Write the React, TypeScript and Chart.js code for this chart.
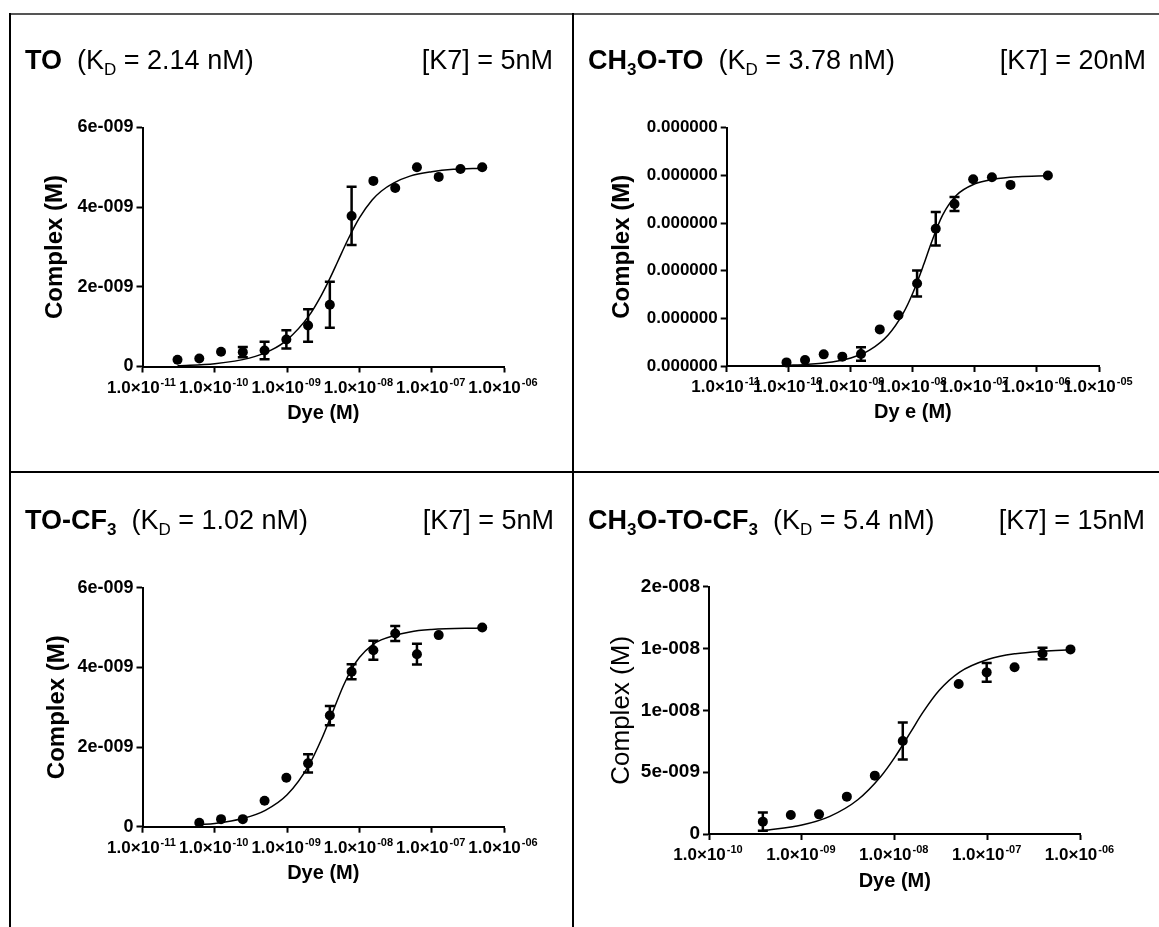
import React, { useEffect, useRef } from 'react';
import { Chart, registerables } from 'chart.js';

Chart.register(...registerables);

const FONT = '"Liberation Sans", Arial, Helvetica, sans-serif';

// ---------- Panel 1: TO ----------
const toDye = [3.05e-11, 6.1e-11, 1.22e-10, 2.44e-10, 4.88e-10, 9.77e-10, 1.95e-9, 3.9e-9, 7.8e-9, 1.56e-8, 3.13e-8, 6.25e-8, 1.25e-7, 2.5e-7, 5e-7];
const toComplex = [0.17e-9, 0.2e-9, 0.37e-9, 0.36e-9, 0.4e-9, 0.68e-9, 1.03e-9, 1.55e-9, 3.78e-9, 4.66e-9, 4.48e-9, 5.0e-9, 4.76e-9, 4.96e-9, 5.0e-9];
const toSem = [0, 0, 0, 0.13e-9, 0.22e-9, 0.23e-9, 0.41e-9, 0.58e-9, 0.73e-9, 0, 0, 0, 0, 0, 0];
const toFitDye = [3.05e-11, 1e-10, 3e-10, 6e-10, 1e-9, 2e-9, 3e-9, 4e-9, 5e-9, 7e-9, 1e-8, 1.5e-8, 2e-8, 3e-8, 5e-8, 1e-7, 2e-7, 5e-7];
const toFitComplex = [0.02e-9, 0.07e-9, 0.21e-9, 0.41e-9, 0.67e-9, 1.27e-9, 1.8e-9, 2.25e-9, 2.63e-9, 3.2e-9, 3.73e-9, 4.18e-9, 4.4e-9, 4.61e-9, 4.78e-9, 4.89e-9, 4.95e-9, 4.98e-9];
const toXTicks = [1e-11, 1e-10, 1e-9, 1e-8, 1e-7, 1e-6];
const toXExps = ['-11', '-10', '-09', '-08', '-07', '-06'];
const toYTicks = [0, 2e-9, 4e-9, 6e-9];
const toYLabels = ['0', '2e-009', '4e-009', '6e-009'];

// ---------- Panel 2: CH3O-TO ----------
const meoDye = [9.2e-11, 1.83e-10, 3.66e-10, 7.3e-10, 1.46e-9, 2.93e-9, 5.86e-9, 1.17e-8, 2.34e-8, 4.69e-8, 9.38e-8, 1.88e-7, 3.75e-7, 1.5e-6];
const meoComplex = [0.38e-9, 0.63e-9, 1.22e-9, 0.98e-9, 1.26e-9, 3.84e-9, 5.33e-9, 8.65e-9, 14.4e-9, 17.0e-9, 19.6e-9, 19.8e-9, 19.0e-9, 19.98e-9];
const meoSem = [0, 0, 0, 0, 0.7e-9, 0, 0, 1.36e-9, 1.75e-9, 0.73e-9, 0, 0, 0, 0];
const meoFitDye = [9.2e-11, 2e-10, 5e-10, 1e-9, 2e-9, 4e-9, 7e-9, 1e-8, 1.5e-8, 2e-8, 3e-8, 5e-8, 1e-7, 2e-7, 5e-7, 1.5e-6];
const meoFitComplex = [0.08e-9, 0.17e-9, 0.42e-9, 0.84e-9, 1.66e-9, 3.26e-9, 5.55e-9, 7.66e-9, 10.67e-9, 12.99e-9, 15.8e-9, 17.89e-9, 19.11e-9, 19.59e-9, 19.85e-9, 19.95e-9];
const meoXTicks = [1e-11, 1e-10, 1e-9, 1e-8, 1e-7, 1e-6, 1e-5];
const meoXExps = ['-11', '-10', '-09', '-08', '-07', '-06', '-05'];
const meoYTicks = [0, 5e-9, 1e-8, 1.5e-8, 2e-8, 2.5e-8];
const meoYLabels = ['0.000000', '0.000000', '0.000000', '0.000000', '0.000000', '0.000000'];

// ---------- Panel 3: TO-CF3 ----------
const cf3Dye = [6.1e-11, 1.22e-10, 2.44e-10, 4.88e-10, 9.77e-10, 1.95e-9, 3.9e-9, 7.8e-9, 1.56e-8, 3.13e-8, 6.25e-8, 1.25e-7, 5e-7];
const cf3Complex = [0.1e-9, 0.19e-9, 0.19e-9, 0.65e-9, 1.23e-9, 1.59e-9, 2.79e-9, 3.89e-9, 4.43e-9, 4.85e-9, 4.33e-9, 4.81e-9, 5.0e-9];
const cf3Sem = [0, 0, 0, 0, 0, 0.23e-9, 0.24e-9, 0.19e-9, 0.24e-9, 0.19e-9, 0.26e-9, 0, 0];
const cf3FitDye = [6.1e-11, 1e-10, 2.5e-10, 5e-10, 1e-9, 2e-9, 3e-9, 4e-9, 6e-9, 8e-9, 1e-8, 1.5e-8, 2e-8, 5e-8, 1e-7, 5e-7];
const cf3FitComplex = [0.05e-9, 0.08e-9, 0.21e-9, 0.41e-9, 0.8e-9, 1.54e-9, 2.2e-9, 2.75e-9, 3.54e-9, 3.99e-9, 4.25e-9, 4.56e-9, 4.69e-9, 4.89e-9, 4.95e-9, 4.99e-9];
const cf3XTicks = [1e-11, 1e-10, 1e-9, 1e-8, 1e-7, 1e-6];
const cf3XExps = ['-11', '-10', '-09', '-08', '-07', '-06'];
const cf3YTicks = [0, 2e-9, 4e-9, 6e-9];
const cf3YLabels = ['0', '2e-009', '4e-009', '6e-009'];

// ---------- Panel 4: CH3O-TO-CF3 ----------
const meoCf3Dye = [3.8e-10, 7.6e-10, 1.53e-9, 3.05e-9, 6.1e-9, 1.22e-8, 4.88e-8, 9.77e-8, 1.95e-7, 3.9e-7, 7.8e-7];
const meoCf3Complex = [1.0e-9, 1.54e-9, 1.59e-9, 3.02e-9, 4.72e-9, 7.52e-9, 12.13e-9, 13.07e-9, 13.48e-9, 14.6e-9, 14.93e-9];
const meoCf3Sem = [0.73e-9, 0, 0, 0, 0, 1.5e-9, 0, 0.75e-9, 0, 0.46e-9, 0];
const meoCf3FitDye = [3.8e-10, 1e-9, 2e-9, 4e-9, 7e-9, 1e-8, 1.5e-8, 2e-8, 3e-8, 5e-8, 1e-7, 2e-7, 4e-7, 7.8e-7];
const meoCf3FitComplex = [0.28e-9, 0.73e-9, 1.43e-9, 2.77e-9, 4.61e-9, 6.2e-9, 8.3e-9, 9.81e-9, 11.6e-9, 13.09e-9, 14.11e-9, 14.58e-9, 14.79e-9, 14.9e-9];
const meoCf3XTicks = [1e-10, 1e-9, 1e-8, 1e-7, 1e-6];
const meoCf3XExps = ['-10', '-09', '-08', '-07', '-06'];
const meoCf3YTicks = [0, 5e-9, 1e-8, 1.5e-8, 2e-8];
const meoCf3YLabels = ['0', '5e-009', '1e-008', '1e-008', '2e-008'];

type PanelDef = {
  x0: number; y0: number; w: number; h: number;
  pad: { left: number; right: number; top: number; bottom: number };
  yWidth: number; xHeight: number;
  xMin: number; xMax: number; yMax: number;
  xTicks: number[]; xExps: string[]; yTicks: number[]; yLabels: string[];
  dye: number[]; complex: number[]; sem: number[]; fitDye: number[]; fitComplex: number[];
  yTitle: string; yTitleWeight: string; yTitleSize: number; yTickSize: number; xTitle: string;
};

const panels: PanelDef[] = [
  {
    x0: 11, y0: 15, w: 561, h: 456,
    pad: { left: 32, right: 68, top: 112.5, bottom: 48 }, yWidth: 99.5, xHeight: 56.5,
    xMin: 1e-11, xMax: 1e-6, yMax: 6e-9,
    xTicks: toXTicks, xExps: toXExps, yTicks: toYTicks, yLabels: toYLabels,
    dye: toDye, complex: toComplex, sem: toSem, fitDye: toFitDye, fitComplex: toFitComplex,
    yTitle: 'Complex (M)', yTitleWeight: 'bold', yTitleSize: 24, yTickSize: 18, xTitle: 'Dye (M)',
  },
  {
    x0: 574, y0: 15, w: 585, h: 456,
    pad: { left: 36, right: 60, top: 112.7, bottom: 49 }, yWidth: 116.7, xHeight: 56,
    xMin: 1e-11, xMax: 1e-5, yMax: 2.5e-8,
    xTicks: meoXTicks, xExps: meoXExps, yTicks: meoYTicks, yLabels: meoYLabels,
    dye: meoDye, complex: meoComplex, sem: meoSem, fitDye: meoFitDye, fitComplex: meoFitComplex,
    yTitle: 'Complex (M)', yTitleWeight: 'bold', yTitleSize: 24, yTickSize: 17, xTitle: 'Dy e (M)',
  },
  {
    x0: 11, y0: 473, w: 561, h: 454,
    pad: { left: 34, right: 68, top: 114.7, bottom: 44 }, yWidth: 97.5, xHeight: 56.3,
    xMin: 1e-11, xMax: 1e-6, yMax: 6e-9,
    xTicks: cf3XTicks, xExps: cf3XExps, yTicks: cf3YTicks, yLabels: cf3YLabels,
    dye: cf3Dye, complex: cf3Complex, sem: cf3Sem, fitDye: cf3FitDye, fitComplex: cf3FitComplex,
    yTitle: 'Complex (M)', yTitleWeight: 'bold', yTitleSize: 24, yTickSize: 18, xTitle: 'Dye (M)',
  },
  {
    x0: 574, y0: 473, w: 585, h: 454,
    pad: { left: 35, right: 78.5, top: 113.7, bottom: 35.5 }, yWidth: 100, xHeight: 57.5,
    xMin: 1e-10, xMax: 1e-6, yMax: 2e-8,
    xTicks: meoCf3XTicks, xExps: meoCf3XExps, yTicks: meoCf3YTicks, yLabels: meoCf3YLabels,
    dye: meoCf3Dye, complex: meoCf3Complex, sem: meoCf3Sem, fitDye: meoCf3FitDye, fitComplex: meoCf3FitComplex,
    yTitle: 'Complex (M)', yTitleWeight: 'normal', yTitleSize: 26, yTickSize: 19, xTitle: 'Dye (M)',
  },
];

function PanelChart({ p }: { p: PanelDef }) {
  const ref = useRef<HTMLCanvasElement | null>(null);
  useEffect(() => {
    if (!ref.current) return;
    const errorBars = {
      id: 'errorBars',
      afterDatasetsDraw(chart: any) {
        const { ctx } = chart;
        const xs = chart.scales.x;
        const ys = chart.scales.y;
        ctx.save();
        ctx.strokeStyle = '#000';
        ctx.lineWidth = 2.5;
        p.dye.forEach((d, i) => {
          const e = p.sem[i];
          if (!e) return;
          const px = xs.getPixelForValue(d);
          const yt = ys.getPixelForValue(p.complex[i] + e);
          const yb = ys.getPixelForValue(p.complex[i] - e);
          ctx.beginPath();
          ctx.moveTo(px, yt);
          ctx.lineTo(px, yb);
          ctx.moveTo(px - 5, yt);
          ctx.lineTo(px + 5, yt);
          ctx.moveTo(px - 5, yb);
          ctx.lineTo(px + 5, yb);
          ctx.stroke();
        });
        ctx.restore();
      },
    };
    const xLabels = {
      id: 'xLabels',
      afterDraw(chart: any) {
        const { ctx } = chart;
        const xs = chart.scales.x;
        const base = chart.chartArea.bottom + 26;
        ctx.save();
        ctx.fillStyle = '#000';
        ctx.textBaseline = 'alphabetic';
        ctx.textAlign = 'left';
        p.xTicks.forEach((v, i) => {
          const px = xs.getPixelForValue(v);
          const main = '1.0\u00d710';
          const sup = p.xExps[i];
          ctx.font = `bold 17px ${FONT}`;
          const w1 = ctx.measureText(main).width;
          ctx.font = `bold 11px ${FONT}`;
          const w2 = ctx.measureText(sup).width;
          const left = px - (w1 + w2 + 1) / 2 - 1;
          ctx.font = `bold 17px ${FONT}`;
          ctx.fillText(main, left, base);
          ctx.font = `bold 11px ${FONT}`;
          ctx.fillText(sup, left + w1 + 1, base - 7);
        });
        ctx.restore();
      },
    };
    const grid = { drawOnChartArea: false, drawTicks: true, tickLength: 6, tickWidth: 2, tickColor: '#000' };
    const border = { display: true, color: '#000', width: 2 };
    const chart = new Chart(ref.current, {
      type: 'scatter',
      data: {
        datasets: [
          {
            type: 'scatter',
            data: p.dye.map((x, i) => ({ x, y: p.complex[i] })),
            pointRadius: 5,
            pointHoverRadius: 5,
            backgroundColor: '#000',
            borderColor: '#000',
            borderWidth: 0,
            clip: false,
            order: 1,
          } as any,
          {
            type: 'line',
            data: p.fitDye.map((x, i) => ({ x, y: p.fitComplex[i] })),
            borderColor: '#000',
            borderWidth: 1.5,
            pointRadius: 0,
            pointHoverRadius: 0,
            cubicInterpolationMode: 'monotone',
            fill: false,
            clip: false,
            order: 2,
          } as any,
        ],
      },
      options: {
        animation: false,
        responsive: false,
        maintainAspectRatio: false,
        events: [],
        layout: { padding: p.pad },
        plugins: { legend: { display: false }, tooltip: { enabled: false }, title: { display: false } },
        scales: {
          x: {
            type: 'logarithmic',
            position: 'bottom',
            min: p.xMin,
            max: p.xMax,
            afterBuildTicks: (s: any) => { s.ticks = p.xTicks.map((v) => ({ value: v })); },
            afterFit: (s: any) => { s.height = p.xHeight; },
            ticks: { display: false },
            grid,
            border,
            title: {
              display: true,
              text: p.xTitle,
              color: '#000',
              font: { family: FONT, size: 20, weight: 'bold', lineHeight: 1 },
              padding: 0,
            },
          },
          y: {
            type: 'linear',
            position: 'left',
            min: 0,
            max: p.yMax,
            afterBuildTicks: (s: any) => { s.ticks = p.yTicks.map((v) => ({ value: v })); },
            afterFit: (s: any) => { s.width = p.yWidth; },
            ticks: {
              color: '#000',
              font: { family: FONT, size: p.yTickSize, weight: 'bold' },
              padding: 3,
              callback: (_v: any, i: number) => p.yLabels[i],
            },
            grid,
            border,
            title: {
              display: true,
              text: p.yTitle,
              color: '#000',
              font: { family: FONT, size: p.yTitleSize, weight: p.yTitleWeight as any, lineHeight: 1 },
              padding: 0,
            },
          },
        },
      } as any,
      plugins: [errorBars, xLabels],
    });
    return () => chart.destroy();
  }, [p]);
  return (
    <canvas
      ref={ref}
      width={p.w}
      height={p.h}
      style={{ position: 'absolute', left: p.x0, top: p.y0, width: p.w, height: p.h }}
    />
  );
}

const sub: React.CSSProperties = { fontSize: 17, position: 'relative', top: 6, lineHeight: 0 };

function LeftTitle({ x, base, children }: { x: number; base: number; children: React.ReactNode }) {
  return (
    <div style={{ position: 'absolute', left: x, top: base - 23, fontSize: 27, lineHeight: '27px', whiteSpace: 'pre', color: '#000' }}>
      {children}
    </div>
  );
}

function RightTitle({ right, base, text }: { right: number; base: number; text: string }) {
  return (
    <div style={{ position: 'absolute', right: 1159 - right, top: base - 23, fontSize: 27, lineHeight: '27px', whiteSpace: 'pre', color: '#000' }}>
      {text}
    </div>
  );
}

export default function App() {
  return (
    <div style={{ position: 'absolute', left: 0, top: 0, width: 1159, height: 927, background: '#fff', overflow: 'hidden', fontFamily: FONT }}>
      {/* borders */}
      <div style={{ position: 'absolute', left: 9, top: 13, width: 1150, height: 2, background: '#555' }} />
      <div style={{ position: 'absolute', left: 9, top: 13, width: 2, height: 914, background: '#000' }} />
      <div style={{ position: 'absolute', left: 572, top: 13, width: 2, height: 914, background: '#000' }} />
      <div style={{ position: 'absolute', left: 9, top: 471, width: 1150, height: 2, background: '#000' }} />

      {panels.map((p, i) => <PanelChart key={i} p={p} />)}

      <LeftTitle x={25} base={70}>
        <b>TO</b>{'  (K'}<span style={sub}>D</span>{' = 2.14 nM)'}
      </LeftTitle>
      <RightTitle right={553} base={70} text="[K7] = 5nM" />

      <LeftTitle x={588} base={70}>
        <b>CH<span style={sub}>3</span>O-TO</b>{'  (K'}<span style={sub}>D</span>{' = 3.78 nM)'}
      </LeftTitle>
      <RightTitle right={1146} base={70} text="[K7] = 20nM" />

      <LeftTitle x={25} base={530}>
        <b>TO-CF<span style={sub}>3</span></b>{'  (K'}<span style={sub}>D</span>{' = 1.02 nM)'}
      </LeftTitle>
      <RightTitle right={554} base={530} text="[K7] = 5nM" />

      <LeftTitle x={588} base={530}>
        <b>CH<span style={sub}>3</span>O-TO-CF<span style={sub}>3</span></b>{'  (K'}<span style={sub}>D</span>{' = 5.4 nM)'}
      </LeftTitle>
      <RightTitle right={1145} base={530} text="[K7] = 15nM" />
    </div>
  );
}
